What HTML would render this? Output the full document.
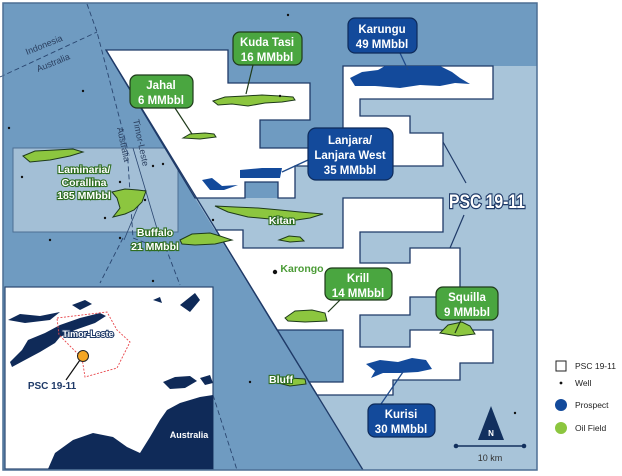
<!DOCTYPE html>
<html><head><meta charset="utf-8"><style>
html,body{margin:0;padding:0;background:#fff;width:622px;height:476px;overflow:hidden}
svg{display:block}
.bx{font-family:"Liberation Sans",sans-serif;font-weight:bold;font-size:11.5px;fill:#fff;text-anchor:middle}
.gl{font-family:"Liberation Sans",sans-serif;font-weight:bold;font-size:10.5px;fill:#fff;stroke:#2f6e22;stroke-width:2.2px;paint-order:stroke;text-anchor:middle}
.lg{font-family:"Liberation Sans",sans-serif;font-size:8.5px;fill:#222}
.fld{fill:#8cc63f;stroke:#1e3a1a;stroke-width:1}
.pro{fill:#134a9b}
.wl{fill:#111}
</style></head><body>
<svg width="622" height="476" viewBox="0 0 622 476" xmlns="http://www.w3.org/2000/svg">
<rect x="0" y="0" width="622" height="476" fill="#fff"/>
<rect x="3" y="3" width="534" height="467" fill="#6f9bc1"/>
<polygon points="343,66 537,66 537,470 363,470 195,198 295,198 295,166 343,166" fill="#a8c4d9"/>
<polygon points="277,330 343,330 343,382 309,382" fill="#6f9bc1" stroke="#1f3a68" stroke-width="1"/>
<rect x="13" y="148" width="165" height="84" fill="#a3bfd6" stroke="#4d6f94" stroke-width="1"/>
<line x1="133" y1="148" x2="158" y2="232" stroke="#2a4670" stroke-width="0.8"/>
<line x1="145" y1="190" x2="124" y2="240" stroke="#2a4670" stroke-width="0.8"/>
<g stroke="#2a4670" stroke-width="0.9" stroke-dasharray="5,3" fill="none">
<polyline points="0,77 97,32"/>
<polyline points="87,4 97,32 127,147 133,238 167,251 180,285"/>
<polyline points="123,238 100,283"/>
<polyline points="213,395 237,470"/>
</g>
<text x="0" y="0" transform="translate(27,55) rotate(-22)" font-family="Liberation Sans,sans-serif" font-size="9" fill="#2a3f5f">Indonesia</text>
<text x="0" y="0" transform="translate(38,72) rotate(-22)" font-family="Liberation Sans,sans-serif" font-size="9" fill="#2a3f5f">Australia</text>
<text x="0" y="0" transform="translate(133,120) rotate(78)" font-family="Liberation Sans,sans-serif" font-size="9" fill="#2a3f5f">Timor-Leste</text>
<text x="0" y="0" transform="translate(117,128) rotate(78)" font-family="Liberation Sans,sans-serif" font-size="9" fill="#2a3f5f">Australia</text>
<g fill="#fff" stroke="#1f3a68" stroke-width="1.3">
<polygon points="106,50 228,50 228,83 310,83 310,120 260,120 260,148 310,148 310,166 295,166 295,198 278,198 278,182 245,182 245,198 195,198"/>
<polygon points="343,66 493,66 493,99 360,99 360,116 410,116 410,133 443,133 443,166 343,166"/>
<polygon points="216,230 243,230 243,248 343,248 343,198 443,198 443,232 360,232 360,263 410,263 410,248 460,248 460,297 410,297 410,315 360,315 360,347 410,347 410,330 493,330 493,363 460,363 460,380 393,380 393,395 317,395 309,382 343,382 343,330 277,330"/>
</g>
<line x1="106" y1="50" x2="363" y2="470" stroke="#1f3a68" stroke-width="1.3"/>
<path class="pro" d="M350,78 L362,72 L378,70 L385,66 L440,66 L452,72 L460,78 L470,84 L455,83 L440,86 L420,85 L400,88 L375,86 L355,86 Z"/>
<path class="pro" d="M240,170 L262,168 L282,168 L280,178 L258,178 L240,178 Z"/>
<path class="pro" d="M202,180 L212,178 L222,186 L238,185 L224,190 L210,190 Z"/>
<path class="pro" d="M366,364 L380,360 L398,362 L412,358 L426,360 L432,369 L418,372 L400,373 L383,373 L371,378 L375,371 Z"/>
<path class="fld" d="M213,101 L225,97 L245,96 L262,95 L280,96 L293,97 L295,100 L282,102 L265,103 L248,106 L232,104 L218,105 Z"/>
<path class="fld" d="M183,138 L190,134 L205,133 L214,134 L216,137 L200,139 Z"/>
<path class="fld" d="M23,156 L35,151 L55,150 L73,149 L83,152 L70,156 L50,160 L30,162 Z"/>
<path class="fld" d="M112,192 L125,189 L138,190 L146,191 L142,202 L134,210 L125,214 L113,217 L120,208 L117,198 Z"/>
<path class="fld" d="M215,206 L235,207 L258,208 L280,210 L300,212 L323,214 L310,218 L290,221 L270,219 L248,217 L228,212 Z"/>
<path class="fld" d="M279,240 L289,236 L300,237 L304,241 L290,242 Z"/>
<path class="fld" d="M180,240 L192,234 L210,233 L220,236 L232,240 L215,244 L195,245 L182,244 Z"/>
<path class="fld" d="M285,318 L295,311 L312,310 L325,313 L327,321 L305,322 L288,321 Z"/>
<path class="fld" d="M440,333 L448,325 L462,322 L470,326 L475,334 L458,336 Z"/>
<path class="fld" d="M278,383 L290,378 L305,379 L306,384 L290,386 Z"/>
<g class="wl">
<circle cx="288" cy="15" r="1.2"/><circle cx="83" cy="91" r="1.2"/><circle cx="9" cy="128" r="1.2"/><circle cx="22" cy="177" r="1.2"/><circle cx="120" cy="182" r="1.2"/><circle cx="163" cy="164" r="1.2"/><circle cx="105" cy="218" r="1.2"/><circle cx="145" cy="200" r="1.2"/><circle cx="50" cy="240" r="1.2"/><circle cx="153" cy="281" r="1.2"/><circle cx="250" cy="382" r="1.2"/><circle cx="280" cy="96" r="1.2"/><circle cx="213" cy="220" r="1.2"/><circle cx="515" cy="413" r="1.2"/><circle cx="120" cy="238" r="1.2"/><circle cx="153" cy="166" r="1.2"/>
<circle cx="275" cy="272" r="2.2"/>
</g>
<text class="gl" x="84" y="173">Laminaria/</text>
<text class="gl" x="84" y="186">Corallina</text>
<text class="gl" x="84" y="199">185 MMbbl</text>
<text class="gl" x="155" y="236">Buffalo</text>
<text class="gl" x="155" y="250">21 MMbbl</text>
<text class="gl" x="282" y="224">Kitan</text>
<text class="gl" x="302" y="272" style="fill:#4a9b35;stroke:#fff">Karongo</text>
<text class="gl" x="281" y="383">Bluff</text>
<g stroke="#1f3a1a" stroke-width="1.2">
<line x1="253" y1="65" x2="246" y2="94"/><line x1="175" y1="108" x2="192" y2="134"/>
<line x1="340" y1="300" x2="328" y2="312"/><line x1="461" y1="320" x2="455" y2="333"/>
</g>
<g stroke="#1f4a8a" stroke-width="1.3">
<line x1="400" y1="53" x2="408" y2="70"/><line x1="308" y1="160" x2="282" y2="172"/><line x1="381" y1="404" x2="403" y2="372"/>
</g>
<g stroke="#1f3a1a" stroke-width="1.2" fill="#4aa640">
<rect x="233" y="32" width="69" height="33" rx="7"/>
<rect x="130" y="75" width="63" height="33" rx="7"/>
<rect x="325" y="268" width="67" height="32" rx="7"/>
<rect x="436" y="287" width="62" height="33" rx="7"/>
</g>
<g stroke="#0d2a5a" stroke-width="1.2" fill="#134a9b">
<rect x="348" y="18" width="69" height="35" rx="7"/>
<rect x="308" y="128" width="85" height="52" rx="8"/>
<rect x="368" y="404" width="67" height="33" rx="7"/>
</g>
<text class="bx" x="267" y="46">Kuda Tasi</text><text class="bx" x="267" y="61">16 MMbbl</text>
<text class="bx" x="161" y="89">Jahal</text><text class="bx" x="161" y="104">6 MMbbl</text>
<text class="bx" x="382" y="33">Karungu</text><text class="bx" x="382" y="48">49 MMbbl</text>
<text class="bx" x="350" y="144">Lanjara/</text><text class="bx" x="350" y="159">Lanjara West</text><text class="bx" x="350" y="174">35 MMbbl</text>
<text class="bx" x="358" y="282">Krill</text><text class="bx" x="358" y="297">14 MMbbl</text>
<text class="bx" x="467" y="301">Squilla</text><text class="bx" x="467" y="316">9 MMbbl</text>
<text class="bx" x="401" y="418">Kurisi</text><text class="bx" x="401" y="433">30 MMbbl</text>
<line x1="443" y1="142" x2="466" y2="183" stroke="#1f3a68" stroke-width="1.2"/>
<line x1="464" y1="215" x2="450" y2="248" stroke="#1f3a68" stroke-width="1.2"/>
<text x="487" y="208" font-family="Liberation Sans,sans-serif" font-weight="bold" font-size="19" fill="#fff" stroke="#1f3a68" stroke-width="2.5" paint-order="stroke" text-anchor="middle" textLength="76" lengthAdjust="spacingAndGlyphs">PSC 19-11</text>
<polygon points="491,406 478,440 504,440" fill="#12305e"/>
<text x="491" y="436" font-family="Liberation Sans,sans-serif" font-weight="bold" font-size="8" fill="#fff" text-anchor="middle">N</text>
<line x1="456" y1="446" x2="524" y2="446" stroke="#12305e" stroke-width="1.5"/>
<circle cx="456" cy="446" r="2.3" fill="#12305e"/><circle cx="524" cy="446" r="2.3" fill="#12305e"/>
<text x="490" y="461" font-family="Liberation Sans,sans-serif" font-size="9" fill="#333" text-anchor="middle">10 km</text>
<rect x="5" y="287" width="208" height="182" fill="#fff" stroke="#2a4670" stroke-width="1.2"/>
<g fill="#0f2a58">
<path d="M10,362 L22,350 L28,340 L45,333 L60,325 L80,318 L100,313 L106,316 L95,323 L75,330 L60,337 L55,343 L40,352 L25,360 L12,367 Z"/>
<path d="M8,320 L20,314 L40,316 L60,312 L50,320 L25,323 Z"/>
<path d="M72,305 L85,300 L92,304 L80,310 Z"/>
<path d="M180,305 L195,293 L200,300 L190,312 Z"/>
<path d="M153,300 L160,297 L162,303 Z"/>
<path d="M163,382 L175,377 L190,376 L197,381 L185,388 L170,389 Z"/>
<path d="M200,378 L210,375 L213,383 L205,385 Z"/>
<path d="M48,469 L55,453 L73,440 L93,433 L113,437 L127,447 L140,453 L150,437 L160,420 L167,410 L180,403 L200,397 L213,395 L213,469 Z"/>
</g>
<polygon points="57,318 107,312 117,330 130,342 117,368 85,377 82,358 59,335" fill="none" stroke="#e8454a" stroke-width="0.9" stroke-dasharray="2,1.5"/>
<line x1="80" y1="360" x2="66" y2="380" stroke="#111" stroke-width="1.2"/>
<circle cx="83" cy="356" r="5.5" fill="#f5a623" stroke="#222" stroke-width="1"/>
<text x="88" y="337" font-family="Liberation Sans,sans-serif" font-weight="bold" font-size="9" fill="#fff" stroke="#1f3a68" stroke-width="2" paint-order="stroke" text-anchor="middle">Timor-Leste</text>
<text x="52" y="389" font-family="Liberation Sans,sans-serif" font-weight="bold" font-size="10" fill="#1f3a68" text-anchor="middle">PSC 19-11</text>
<text x="189" y="438" font-family="Liberation Sans,sans-serif" font-weight="bold" font-size="9" fill="#fff" text-anchor="middle">Australia</text>
<rect x="3" y="3" width="534" height="467" fill="none" stroke="#4d6f94" stroke-width="1.5"/>
<rect x="556" y="361" width="10" height="10" fill="#fff" stroke="#222" stroke-width="1"/>
<text class="lg" x="575" y="369">PSC 19-11</text>
<circle cx="561" cy="383" r="1.4" fill="#111"/>
<text class="lg" x="575" y="386">Well</text>
<circle cx="561" cy="405" r="6" fill="#134a9b"/>
<text class="lg" x="575" y="408">Prospect</text>
<circle cx="561" cy="428" r="6" fill="#8cc63f"/>
<text class="lg" x="575" y="431">Oil Field</text>
</svg>
</body></html>
